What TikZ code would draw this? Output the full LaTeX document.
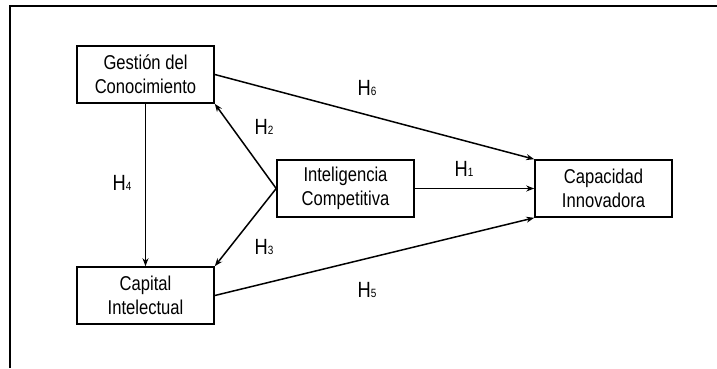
\documentclass[tikz,border=0pt]{standalone}
\usepackage{fontspec}
\setmainfont{Liberation Sans}[FakeStretch=0.83]
\usetikzlibrary{arrows.meta}
\newcommand{\hsub}[2]{#1{\fontsize{12}{12}\selectfont #2}}
\begin{document}
\begin{tikzpicture}[x=1pt,y=-1pt,
  box/.style={draw=black,line width=1.6pt,minimum width=137pt,minimum height=57pt,
    inner sep=0pt,align=center,font=\fontsize{20}{24}\selectfont},
  lab/.style={font=\fontsize{22}{24}\selectfont,inner sep=0pt},
  arr/.style={line width=1.5pt,-{Stealth[length=8pt,width=6pt]}},
  frame/.style={line width=2.2pt}]
\useasboundingbox (0,0) rectangle (717,368);
\coordinate (f1) at (10,368);
\coordinate (f2) at (10,6);
\coordinate (f3) at (717,6);
\draw[frame] (f1) -- (f2) -- (f3);
\node[box] (gc) at (145.5,74.5) {Gestión del\\Conocimiento};
\node[box] (ci) at (145.5,295.5) {Capital\\Intelectual};
\node[box] (ic) at (345.5,188.5) {Inteligencia\\Competitiva};
\node[box] (cap) at (603.5,188.5) {Capacidad\\Innovadora};
\draw[arr] (gc.east) -- (cap.north west);
\draw[arr] (ic.east) -- (cap.west);
\draw[arr] (ci.east) -- (cap.south west);
\draw[arr] (ic.west) -- (gc.south east);
\draw[arr] (ic.west) -- (ci.north east);
\draw[arr] (gc.south) -- (ci.north);
\node[lab] (h6) at (367,88) {\hsub{H}{6}};
\node[lab] (h2) at (264,127) {\hsub{H}{2}};
\node[lab] (h4) at (122,183) {\hsub{H}{4}};
\node[lab] (h1) at (464,169) {\hsub{H}{1}};
\node[lab] (h3) at (264,247) {\hsub{H}{3}};
\node[lab] (h5) at (367,290) {\hsub{H}{5}};
\end{tikzpicture}
\end{document}
